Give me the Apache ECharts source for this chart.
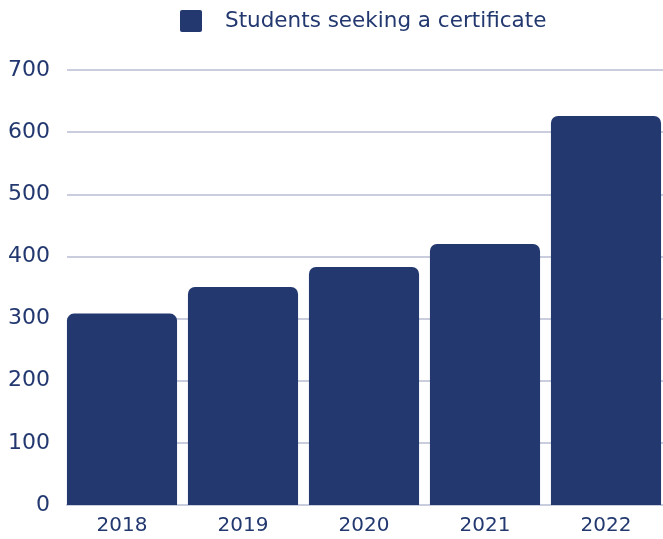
<!DOCTYPE html>
<html>
<head>
<meta charset="utf-8">
<script src="https://cdn.jsdelivr.net/npm/echarts@6/dist/echarts.min.js"></script>
<style>
html,body{margin:0;padding:0;background:#fff;}
#chart{width:663px;height:539px;}
</style>
</head>
<body>
<div id="chart"></div>
<script>
const categories = ['2018', '2019', '2020', '2021', '2022'];
const seriesName = 'Students seeking a certificate';
const values = [308, 351, 383, 420, 626];
const yTicks = [0, 100, 200, 300, 400, 500, 600, 700];

const navy = '#22386f';
const gridColor = '#c9cddd';
const fontFamily = '"DejaVu Sans", "Noto Sans", sans-serif';

const chart = echarts.init(document.getElementById('chart'), null, {renderer: 'canvas'});
chart.setOption({
  animation: false,
  textStyle: {fontFamily: fontFamily, color: navy},
  legend: {
    show: true,
    top: 10,
    left: 180,
    padding: 0,
    icon: 'path://M2,0H20Q22,0 22,2V20Q22,22 20,22H2Q0,22 0,20V2Q0,0 2,0Z',
    itemWidth: 22,
    itemHeight: 22,
    textStyle: {fontSize: 21.5, color: navy, fontFamily: fontFamily, padding: [0, 0, 4, 18]},
    data: [seriesName]
  },
  grid: [
    {left: 67, right: 0, top: 70, bottom: 34, containLabel: false, outerBoundsMode: 'none'},
    {left: 61.5, width: 605, top: 70, bottom: 34, containLabel: false, outerBoundsMode: 'none'}
  ],
  xAxis: [
    {
      type: 'category',
      gridIndex: 0,
      data: categories,
      show: true,
      axisTick: {show: false},
      axisLabel: {show: false},
      axisLine: {show: true, lineStyle: {color: gridColor, width: 2}}
    },
    {
      type: 'category',
      gridIndex: 1,
      data: categories,
      axisTick: {show: false},
      axisLine: {show: false},
      axisLabel: {fontSize: 20, color: navy, margin: 11, fontFamily: fontFamily}
    }
  ],
  yAxis: [
    {
      type: 'value',
      gridIndex: 0,
      min: yTicks[0],
      max: yTicks[yTicks.length - 1],
      interval: 100,
      axisLine: {show: false},
      axisTick: {show: false},
      splitLine: {show: true, lineStyle: {color: gridColor, width: 2}},
      axisLabel: {fontSize: 22, color: navy, margin: 17, fontFamily: fontFamily}
    },
    {
      type: 'value',
      gridIndex: 1,
      min: yTicks[0],
      max: yTicks[yTicks.length - 1],
      interval: 100,
      show: false
    }
  ],
  series: [{
    name: seriesName,
    type: 'bar',
    xAxisIndex: 1,
    yAxisIndex: 1,
    data: values,
    barCategoryGap: '9%',
    itemStyle: {color: navy, borderRadius: [7, 7, 0, 0]}
  }]
});
</script>
</body>
</html>
